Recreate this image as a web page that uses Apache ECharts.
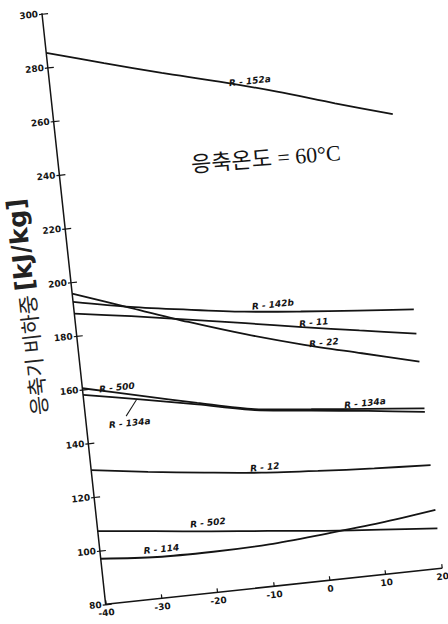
<!DOCTYPE html>
<html>
<head>
<meta charset="utf-8">
<script src="https://cdn.jsdelivr.net/npm/echarts@6/dist/echarts.min.js"></script>
<style>
  html, body { margin: 0; padding: 0; width: 448px; height: 624px; overflow: hidden; background: #fff; }
  #chart { position: absolute; left: -56px; top: -58px; width: 560px; height: 740px;
           transform: rotate(-6.15deg); transform-origin: 50% 50%; background: #fff; }
</style>
</head>
<body>
<div id="chart"></div>
<script>
// Evaporating temperature (°C)
const temps = [-40, -30, -20, -10, 0, 10, 20];
// Condenser specific load [kJ/kg] at condensing temperature 60 °C
const r152a = [285.4, 279.4, 273.5, 268.0, 262.0, 255.4, 249.1];
const r142b = [192.7, 188.6, 185.3, 182.3, 180.1, 178.2, 176.4];
const r11   = [188.3, 185.1, 181.6, 178.0, 174.3, 170.8, 167.4];
const r22   = [195.8, 188.2, 180.7, 173.8, 167.7, 162.3, 156.9];
const r500  = [160.5, 155.5, 150.6, 146.0, 143.7, 141.6, 139.5];
const r134a = [158.0, 154.1, 150.0, 145.6, 143.2, 140.8, 138.2];
const r12   = [130.0, 127.1, 124.6, 122.3, 120.7, 119.4, 118.4];
const r502  = [107.3, 105.0, 102.7, 100.6, 98.4, 96.6, 94.8];
const r114  = [97.0, 95.4, 95.1, 95.6, 97.2, 99.1, 101.7];
// tick labels
const xTicks = ['-40', '-30', '-20', '-10', '0', '10', '20'];
const yTicks = ['80', '100', '120', '140', '160', '180', '200', '220', '240', '260', '280', '300'];

const seriesNames = ['R-152a', 'R-142b', 'R-11', 'R-22', 'R-500', 'R-134a', 'R-12', 'R-502', 'R-114'];
const seriesValues = [r152a, r142b, r11, r22, r500, r134a, r12, r502, r114];
const seriesLabels = ['R - 152a', 'R - 142b', 'R - 11', 'R - 22', 'R - 500', 'R - 134a', 'R - 12', 'R - 502', 'R - 114'];
// label anchor spots (data units), one or more per series
const labelSpots = [
  [[-4.6, 267.0]],
  [[-4.8, 183.8]],
  [[2.1, 175.5]],
  [[3.5, 167.7]],
  [[-33.9, 159.4]],
  [[9.6, 143.8], [-32.3, 145.8]],
  [[-9.3, 124.2]],
  [[-20.4, 106.0]],
  [[-29.1, 98.1]]
];
const leader134a = [[-32.8, 148.5], [-30.6, 154.3]];

const ink = '#141414';
const labelFont = { color: ink, fontSize: 9, fontWeight: 'bold', fontStyle: 'italic',
                    fontFamily: "'DejaVu Sans', sans-serif" };

const series = seriesNames.map((name, i) => {
  const s = {
    name: name,
    type: 'line',
    smooth: 0.3,
    symbol: 'none',
    lineStyle: { color: ink, width: 1.8 },
    data: temps.map((t, k) => [t, seriesValues[i][k]]),
    markPoint: {
      symbol: 'circle', symbolSize: 1,
      itemStyle: { color: 'rgba(0,0,0,0)' },
      label: Object.assign({ show: true, position: 'inside', formatter: seriesLabels[i] }, labelFont),
      data: labelSpots[i].map(p => ({ coord: p }))
    }
  };
  if (name === 'R-134a') {
    s.markLine = {
      symbol: 'none', silent: true,
      label: { show: false },
      lineStyle: { color: ink, width: 1, type: 'solid' },
      data: [[{ coord: leader134a[0] }, { coord: leader134a[1] }]]
    };
  }
  return s;
});

const chart = echarts.init(document.getElementById('chart'), null, { renderer: 'svg' });
chart.setOption({
  animation: false,
  backgroundColor: '#fff',
  grid: { left: 131, top: 54, width: 338, height: 594 },
  xAxis: {
    type: 'value', min: -40, max: 20, interval: 10,
    axisLine: { onZero: false, lineStyle: { color: ink, width: 1.5 } },
    axisTick: { inside: true, length: 4, lineStyle: { color: ink, width: 1.2 } },
    axisLabel: { margin: 4, color: ink, fontSize: 9, fontWeight: 'bold',
                 fontFamily: "'DejaVu Sans', sans-serif",
                 formatter: v => xTicks[temps.indexOf(v)] },
    splitLine: { show: false }
  },
  yAxis: [{
    type: 'value', min: 80, max: 300, interval: 20,
    name: '응축기 비하중 {b|[kJ/kg]}',
    nameLocation: 'middle', nameGap: 33,
    nameTextStyle: { color: '#222', fontSize: 21, fontFamily: "'Noto Sans CJK KR', sans-serif",
                     padding: [0, 0, 0, 14],
                     rich: { b: { fontSize: 25, fontWeight: 'bold', color: '#222',
                                  fontFamily: "'DejaVu Sans', 'Noto Sans CJK KR', sans-serif" } } },
    axisLine: { onZero: false, lineStyle: { color: ink, width: 1.5 } },
    axisTick: { length: 3, lineStyle: { color: ink, width: 1.2 } },
    axisLabel: { margin: 4, color: ink, fontSize: 9, fontWeight: 'bold',
                 fontFamily: "'DejaVu Sans', sans-serif",
                 formatter: v => yTicks[(v - 80) / 20] },
    splitLine: { show: false }
  }, {
    type: 'value', min: 80, max: 300, interval: 20, position: 'left',
    axisLine: { show: false, onZero: false },
    axisTick: { inside: true, length: 6, lineStyle: { color: ink, width: 1.2 } },
    axisLabel: { show: false },
    splitLine: { show: false }
  }],
  graphic: [{
    type: 'text', x: 338, y: 222, rotation: -0.026,
    style: { text: '응축온도 = 60°C', fill: ink, fontSize: 22,
             fontFamily: "'Liberation Serif', 'Noto Sans CJK KR', serif",
             align: 'center', verticalAlign: 'middle' }
  }],
  series: series
});
</script>
</body>
</html>
